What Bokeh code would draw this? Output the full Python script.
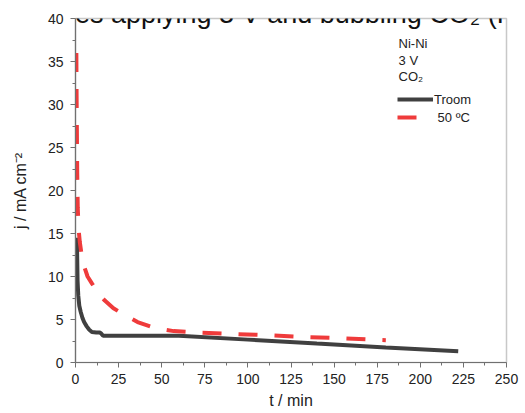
from bokeh.plotting import figure
from bokeh.models import Range1d, Label, Legend, LegendItem, FixedTicker
from bokeh.embed import file_html
from bokeh.resources import INLINE

# ---- data ----
troom_t = [0.8, 1.0, 1.2, 1.6, 2.2, 3.0, 4.0, 5.0, 6.5, 8.0, 9.5, 12.0, 14.0, 15.0, 16.0,
           30, 45, 60, 100, 140, 180, 222]
troom_j = [14.5, 12.0, 9.5, 7.8, 6.6, 5.9, 5.2, 4.7, 4.2, 3.8, 3.55, 3.5, 3.5, 3.35, 3.1,
           3.1, 3.1, 3.1, 2.66, 2.2, 1.75, 1.3]

hot_t = [0.5, 0.6, 0.8, 1.0, 1.3, 1.8, 2.5, 3.5, 5, 7, 9.5, 13, 17, 22, 28, 36, 46, 57,
         73, 94, 114, 135, 157, 180]
hot_j = [36, 32, 27, 22, 18, 15.5, 14, 12.6, 11.2, 10, 9.2, 8.1, 7.2, 6.3, 5.6, 4.7, 4.0,
         3.65, 3.45, 3.3, 3.15, 2.95, 2.8, 2.6]

x_ticks = [0, 25, 50, 75, 100, 125, 150, 175, 200, 225, 250]
y_ticks = [0, 5, 10, 15, 20, 25, 30, 35, 40]

series_names = ["Troom", " 50 ºC"]
info_lines = ["Ni-Ni", "3 V", "CO\u2082"]
caption = "electrodes applying 3 V and bubbling CO\u2082 (Figure"

FONT = "Liberation Sans"

p = figure(width=525, height=413, output_backend="svg", toolbar_location=None,
           x_range=Range1d(0, 250), y_range=Range1d(0, 40),
           min_border_left=75, min_border_right=19, min_border_top=18, min_border_bottom=51)
p.grid.visible = False
p.outline_line_color = "#c8c8c8"
p.outline_line_width = 1.5
p.background_fill_color = "white"
p.border_fill_color = "white"

r1 = p.line(troom_t, troom_j, line_color="#404040", line_width=4)
r2 = p.line(hot_t, hot_j, line_color="#ef3b3b", line_width=4, line_dash="19 17")

for ax in (p.xaxis[0], p.yaxis[0]):
    ax.axis_line_color = "#707070"
    ax.axis_line_width = 1.2
    ax.major_tick_line_color = "#707070"
    ax.minor_tick_line_color = "#707070"
    ax.major_tick_out = 5
    ax.major_tick_in = 0
    ax.minor_tick_out = 3
    ax.minor_tick_in = 0
    ax.major_label_text_font = FONT
    ax.major_label_text_font_size = "14px"
    ax.major_label_text_color = "#222222"
    ax.axis_label_text_font = FONT
    ax.axis_label_text_font_size = "16px"
    ax.axis_label_text_font_style = "normal"
    ax.axis_label_text_color = "#222222"

p.xaxis[0].ticker = FixedTicker(ticks=x_ticks,
                                minor_ticks=[(a + b) / 2 for a, b in zip(x_ticks[:-1], x_ticks[1:])])
p.yaxis[0].ticker = FixedTicker(ticks=y_ticks,
                                minor_ticks=[(a + b) / 2 for a, b in zip(y_ticks[:-1], y_ticks[1:])])
p.xaxis.axis_label = "t / min"
p.yaxis.axis_label = "j / mA cm\u207b\u00b2"
p.xaxis.major_label_standoff = 6
p.yaxis.major_label_standoff = 7
p.xaxis.axis_label_standoff = 5
p.yaxis.axis_label_standoff = 16

# info text lines in the upper right
for txt, yy in zip(info_lines, [37.1, 35.1, 33.2]):
    p.add_layout(Label(x=187.4, y=yy, text=txt, text_font=FONT, text_font_size="13px",
                       text_color="#222222", text_baseline="middle"))

legend = Legend(items=[LegendItem(label=series_names[0], renderers=[r1]),
                       LegendItem(label=series_names[1], renderers=[r2])],
                location=(322, 236), padding=0, margin=0, spacing=0,
                glyph_width=36, glyph_height=18, label_height=18, label_standoff=1,
                label_text_font=FONT, label_text_font_size="13px", label_text_color="#222222",
                border_line_color=None, background_fill_alpha=0)
p.add_layout(legend)

# caption text cut off at the top of the picture
p.add_layout(Label(x=-56, y=40.47, text=caption, text_font=FONT, text_font_size="27px",
                   text_color="#111111", text_baseline="alphabetic"))

open("out.html", "w").write(file_html(p, INLINE))
